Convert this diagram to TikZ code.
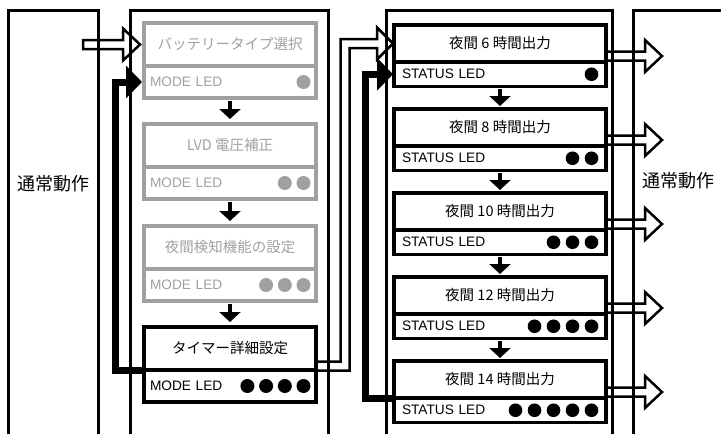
\documentclass[tikz,border=0pt]{standalone}
\usepackage{fontspec}
\setmainfont{Liberation Sans}
\newfontfamily\jp{Noto Sans CJK JP}
\usetikzlibrary{arrows.meta}
\usetikzlibrary{calc}
\definecolor{dim}{RGB}{160,160,160}

\begin{document}
\begin{tikzpicture}[x=1pt, y=-1pt,
    colframe/.style={line width=3},
    box/.style={draw, line width=3.2, outer sep=0, anchor=north},
    mhead/.style={box, minimum width=172, minimum height=43, inner sep=0, font=\jp\fontsize{14.5}{17}\selectfont},
    mled/.style={box, text width=160, inner xsep=6, inner ysep=0, minimum height=32, align=left, font=\fontsize{13.7}{15}\selectfont},
    hhead/.style={box, minimum width=212, minimum height=37, inner sep=0, font=\jp\fontsize{14.5}{17}\selectfont},
    hled/.style={box, text width=196, inner xsep=8, inner ysep=0, minimum height=24.5, align=left, font=\fontsize{13.7}{15}\selectfont},
    dimbox/.style={draw=dim, text=dim},
    nextarr/.style={line width=4.5, -{Triangle[length=10pt, width=21pt]}},
    backarr/.style={line width=7, -{Triangle[length=16pt, width=32pt]}},
    outlinearr/.style={line width=2.5}]
      \useasboundingbox (0,0) rectangle (721,434);

      % columns
      \draw[colframe] (8,434) |- (98,10) -- (98,434);
      \draw[colframe] (130,434) |- (328,10) -- (328,434);
      \draw[colframe] (386,434) |- (612,10) -- (612,434);
      \draw[colframe] (633,434) |- (730,10);
      \node[font=\jp\fontsize{18}{20}\selectfont] (normL) at (53,184) {通常動作};
      \node[font=\jp\fontsize{18}{20}\selectfont] (normR) at (678,181) {通常動作};

      % mode settings
      \node[mhead, dimbox] (m1) at (230,23) {バッテリータイプ選択};
      \node[mled, dimbox] (m1l) at (m1.south) {MODE LED};
      \node[mhead, dimbox] (m2) at (230,124) {LVD 電圧補正};
      \node[mled, dimbox] (m2l) at (m2.south) {MODE LED};
      \node[mhead, dimbox] (m3) at (230,226) {夜間検知機能の設定};
      \node[mled, dimbox] (m3l) at (m3.south) {MODE LED};
      \node[mhead] (m4) at (230,327) {タイマー詳細設定};
      \node[mled] (m4l) at (m4.south) {MODE LED};

      \fill[dim] ($(m1l.east)+(-12.5,0)$) circle[radius=7pt];
      \fill[dim] ($(m2l.east)+(-12.5,0)$) circle[radius=7pt] ++(-18.7,0) circle[radius=7pt];
      \fill[dim] ($(m3l.east)+(-12.5,0)$) circle[radius=7pt] ++(-18.7,0) circle[radius=7pt] ++(-18.7,0) circle[radius=7pt];
      \fill ($(m4l.east)+(-12.5,0)$) circle[radius=7pt] ++(-18.7,0) circle[radius=7pt] ++(-18.7,0) circle[radius=7pt] ++(-18.7,0) circle[radius=7pt];

      \draw[nextarr] ($(m1l.south)+(0,3)$) -- ($(m2.north)+(0,-5)$);
      \draw[nextarr] ($(m2l.south)+(0,3)$) -- ($(m3.north)+(0,-5)$);
      \draw[nextarr] ($(m3l.south)+(0,3)$) -- ($(m4.north)+(0,-5)$);

      % timer settings
      \node[hhead] (h6) at (500,25) {夜間 6 時間出力};
      \node[hled] (h6l) at (h6.south) {STATUS LED};
      \node[hhead] (h8) at (500,109) {夜間 8 時間出力};
      \node[hled] (h8l) at (h8.south) {STATUS LED};
      \node[hhead] (h10) at (500,193) {夜間 10 時間出力};
      \node[hled] (h10l) at (h10.south) {STATUS LED};
      \node[hhead] (h12) at (500,277) {夜間 12 時間出力};
      \node[hled] (h12l) at (h12.south) {STATUS LED};
      \node[hhead] (h14) at (500,361) {夜間 14 時間出力};
      \node[hled] (h14l) at (h14.south) {STATUS LED};

      \fill ($(h6l.east)+(-14.5,0)$) circle[radius=6.8pt];
      \fill ($(h8l.east)+(-14.5,0)$) circle[radius=6.8pt] ++(-19,0) circle[radius=6.8pt];
      \fill ($(h10l.east)+(-14.5,0)$) circle[radius=6.8pt] ++(-19,0) circle[radius=6.8pt] ++(-19,0) circle[radius=6.8pt];
      \fill ($(h12l.east)+(-14.5,0)$) circle[radius=6.8pt] ++(-19,0) circle[radius=6.8pt] ++(-19,0) circle[radius=6.8pt] ++(-19,0) circle[radius=6.8pt];
      \fill ($(h14l.east)+(-14.5,0)$) circle[radius=6.8pt] ++(-19,0) circle[radius=6.8pt] ++(-19,0) circle[radius=6.8pt] ++(-19,0) circle[radius=6.8pt] ++(-19,0) circle[radius=6.8pt];

      \draw[nextarr] ($(h6l.south)+(0,2)$) -- ($(h8.north)+(0,-3)$);
      \draw[nextarr] ($(h8l.south)+(0,2)$) -- ($(h10.north)+(0,-3)$);
      \draw[nextarr] ($(h10l.south)+(0,2)$) -- ($(h12.north)+(0,-3)$);
      \draw[nextarr] ($(h12l.south)+(0,2)$) -- ($(h14.north)+(0,-3)$);

      % outline arrows
      \coordinate (in) at ($(m1.west)+(-61,0)$);
      \draw[outlinearr] (in) ++(0,-4.5) -- ++(40,0) -- ++(0,-11.5) -- ++(17,16) -- ++(-17,16) -- ++(0,-11.5) -- ++(-40,0) -- cycle;
      \draw[outlinearr] ($(m4l.north east)+(0,0.5)$) -| ($(h6.west)+(-44.5,4.5)$) -- ($(h6.west)+(-17,4.5)$) -- ++(0,11.5) -- ($(h6.west)+(-1,0)$) -- ++(-16,-16) -- ++(0,11.5) -- ($(h6.west)+(-53.5,-4.5)$) |- ($(m4l.north east)+(0,-8.5)$);
      \draw[outlinearr] ($(h6l.north east)+(0,-10.5)$) -- ++(39,0) -- ++(0,-11.5) -- ++(17,16) -- ++(-17,16) -- ++(0,-11.5) -- ++(-39,0);
      \draw[outlinearr] ($(h8l.north east)+(0,-10.5)$) -- ++(39,0) -- ++(0,-11.5) -- ++(17,16) -- ++(-17,16) -- ++(0,-11.5) -- ++(-39,0);
      \draw[outlinearr] ($(h10l.north east)+(0,-10.5)$) -- ++(39,0) -- ++(0,-11.5) -- ++(17,16) -- ++(-17,16) -- ++(0,-11.5) -- ++(-39,0);
      \draw[outlinearr] ($(h12l.north east)+(0,-10.5)$) -- ++(39,0) -- ++(0,-11.5) -- ++(17,16) -- ++(-17,16) -- ++(0,-11.5) -- ++(-39,0);
      \draw[outlinearr] ($(h14l.north east)+(0,-10.5)$) -- ++(39,0) -- ++(0,-11.5) -- ++(17,16) -- ++(-17,16) -- ++(0,-11.5) -- ++(-39,0);

      % back arrows
      \draw[backarr] (m4l.north west) -| ($(m1l.west)+(-29,0)$) -- ($(m1l.west)+(-2,0)$);
      \draw[backarr] (h14l.north west) -| ($(h6l.west)+(-29,0)$) -- ($(h6l.west)+(-1,0)$);
    \end{tikzpicture}
\end{document}
